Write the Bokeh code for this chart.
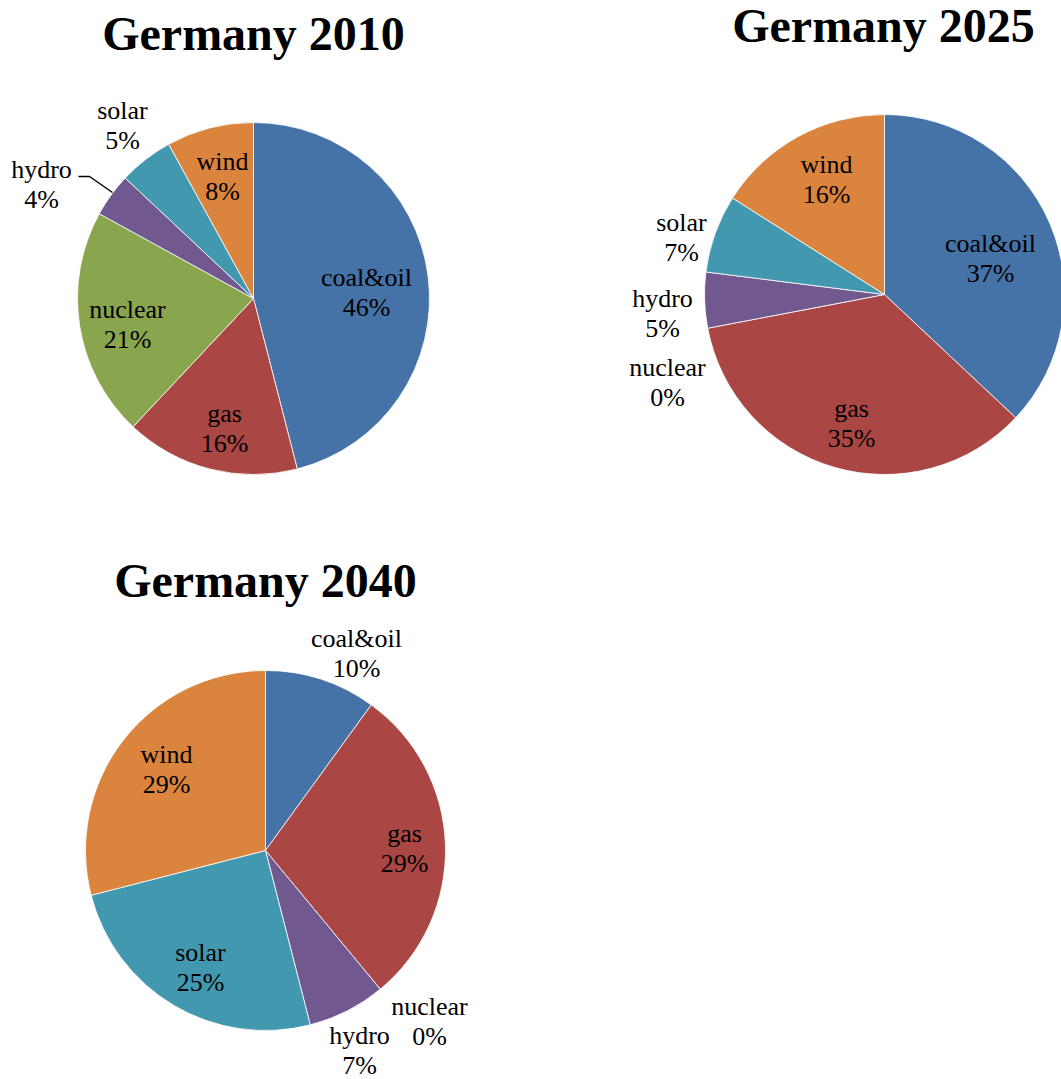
import math
from bokeh.plotting import figure
from bokeh.models import Range1d
from bokeh.embed import file_html
from bokeh.resources import INLINE
from bokeh.core.properties import value

# ---- data ----
categories = ["coal&oil", "gas", "nuclear", "hydro", "solar", "wind"]
shares_2010 = [46, 16, 21, 4, 5, 8]
shares_2025 = [37, 35, 0, 5, 7, 16]
shares_2040 = [10, 29, 0, 7, 25, 29]
titles = ["Germany 2010", "Germany 2025", "Germany 2040"]

# ---- styles / layout ----
colors = ["#4572A7", "#AA4643", "#89A54E", "#71588F", "#4198AF", "#DB843D"]
W, H = 1061, 1079

def Y(img_y):
    return H - img_y

charts = [
    dict(values=shares_2010, title=titles[0], cx=253, cy=298, r=176, tx=253, ty=33,
         label_pos=[(366, 277), (224, 413), (127, 309), (41, 169), (122, 110), (222, 161)]),
    dict(values=shares_2025, title=titles[1], cx=884, cy=294, r=180, tx=883, ty=25,
         label_pos=[(990, 243), (851, 408), (667, 367), (662, 298), (681, 222), (826, 164)]),
    dict(values=shares_2040, title=titles[2], cx=265, cy=850, r=180, tx=265, ty=580,
         label_pos=[(356, 638), (404, 833), (429, 1006), (359, 1035), (200, 952), (166, 754)]),
]

p = figure(width=W, height=H, output_backend="svg", toolbar_location=None,
           x_range=Range1d(0, W), y_range=Range1d(0, H), min_border=0)
p.axis.visible = False
p.grid.visible = False
p.outline_line_color = None
p.background_fill_color = "white"
p.border_fill_color = "white"

FONT = value("Liberation Serif")
LINE_GAP = 30

for ch in charts:
    vals = ch["values"]
    total = float(sum(vals))
    cum = 0.0
    starts, ends, cols = [], [], []
    for v, c in zip(vals, colors):
        a0 = math.pi / 2 - 2 * math.pi * (cum + v) / total
        a1 = math.pi / 2 - 2 * math.pi * cum / total
        cum += v
        if v <= 0:
            continue  # an empty slice draws nothing
        starts.append(a0)
        ends.append(a1)
        cols.append(c)
    n = len(starts)
    p.wedge(x=[ch["cx"]] * n, y=[Y(ch["cy"])] * n, radius=ch["r"],
            start_angle=starts, end_angle=ends, fill_color=cols,
            line_color="white", line_width=0.8)
    xs = [lp[0] for lp in ch["label_pos"]]
    ys_name = [Y(lp[1]) for lp in ch["label_pos"]]
    ys_pct = [Y(lp[1] + LINE_GAP) for lp in ch["label_pos"]]
    pcts = ["%d%%" % round(100 * v / total) for v in vals]
    p.text(x=xs, y=ys_name, text=categories, text_font=FONT, text_font_size="26px",
           text_align="center", text_baseline="middle", text_color="black")
    p.text(x=xs, y=ys_pct, text=pcts, text_font=FONT, text_font_size="26px",
           text_align="center", text_baseline="middle", text_color="black")
    p.text(x=[ch["tx"]], y=[Y(ch["ty"])], text=[ch["title"]], text_font=FONT,
           text_font_size="48px", text_font_style="bold", text_align="center",
           text_baseline="middle", text_color="black")

# leader line for hydro label in the 2010 chart
p.line(x=[78, 89, 112], y=[Y(176), Y(176), Y(192)], line_color="black", line_width=1.5)

open("out.html", "w").write(file_html(p, INLINE))
